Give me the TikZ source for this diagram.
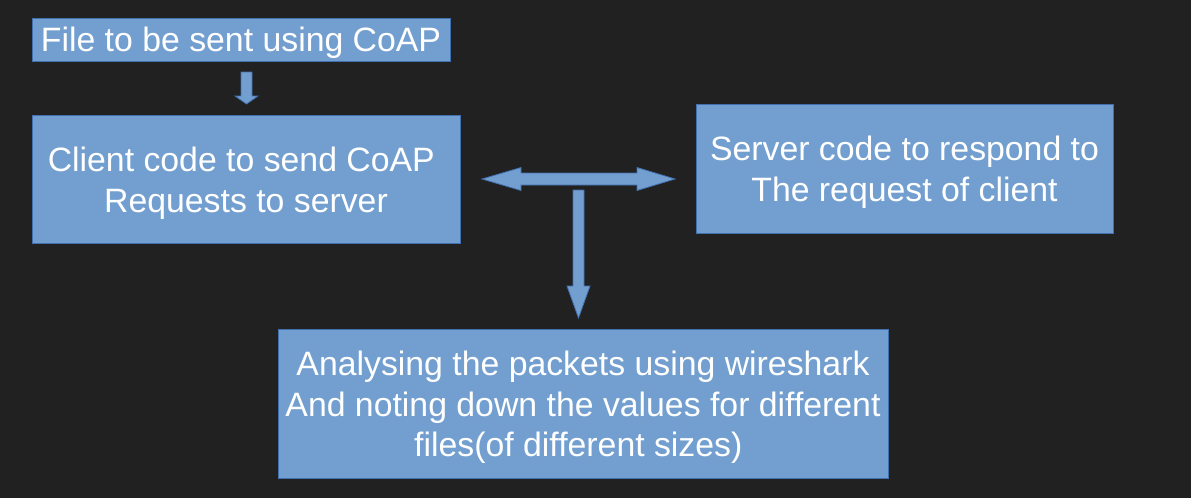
\documentclass[tikz,border=0pt]{standalone}
\usepackage{fontspec}
\setmainfont{Liberation Sans}
\definecolor{bgc}{RGB}{33,33,33}
\definecolor{boxfill}{RGB}{114,159,207}
\definecolor{boxline}{RGB}{65,113,176}
\begin{document}
\begin{tikzpicture}[x=1pt,y=-1pt,
  blk/.style={draw=boxline,fill=boxfill,line width=1pt,inner sep=0pt},
  txt/.style={inner sep=0pt,align=center,text=white,yshift=-4pt,
    font=\fontsize{33.8}{40.7}\selectfont},
  barrow/.style={draw=boxline,fill=boxfill,line width=0.8pt,line join=miter}]
\fill[bgc] (0,0) rectangle (1191,498);
\useasboundingbox (0,0) rectangle (1191,498);
\node[blk,minimum width=418pt,minimum height=43pt,
  label={[txt,yshift=1pt]center:File to be sent using CoAP}] (file) at (241,39.5) {};
\node[blk,minimum width=428pt,minimum height=128pt,
  label={[txt]center:Client code to send CoAP\hspace*{.278em}\\Requests to server}] (client) at (246,179) {};
\node[blk,minimum width=417pt,minimum height=129pt,
  label={[txt]center:Server code to respond to\\The request of client}] (server) at (904.5,168.5) {};
\node[blk,minimum width=610pt,minimum height=149pt,
  label={[txt]center:Analysing the packets using wireshark\\And noting down the values for different\hspace*{.278em}\\files(of different sizes)\hspace*{.278em}}] (wire) at (583,403.5) {};
% small down arrow
\draw[barrow] (241,72) -- (252,72) -- (252,96) -- (258,96) -- (246.5,104) -- (235,96) -- (241,96) -- cycle;
% double arrow
\draw[barrow] (482,179) -- (521,167.5) -- (521,173) -- (637,173) -- (637,167.5) -- (675,179) -- (637,190.5) -- (637,185) -- (521,185) -- (521,190.5) -- cycle;
% down arrow
\draw[barrow] (573,190) -- (584,190) -- (584,286) -- (590,286) -- (578.5,318) -- (567,286) -- (573,286) -- cycle;
\end{tikzpicture}
\end{document}
